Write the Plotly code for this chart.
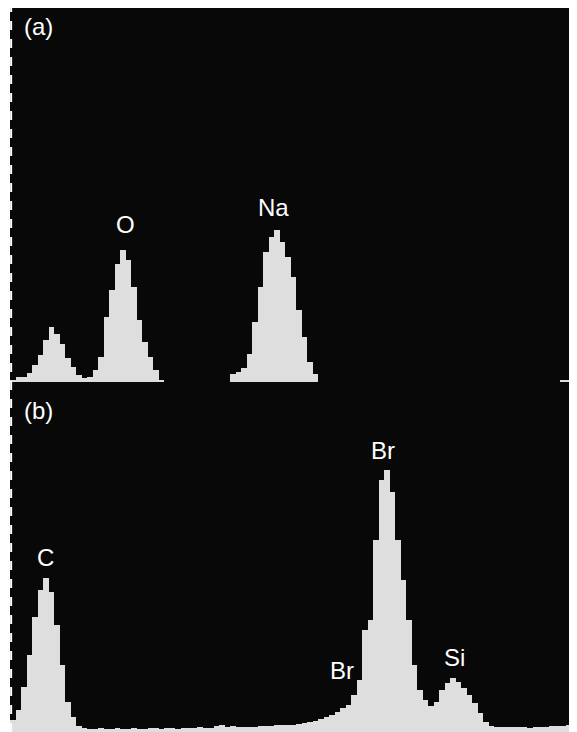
import plotly.graph_objects as go
from plotly.subplots import make_subplots

# channel index (energy channels)
channels = list(range(103))

# panel (a) counts per channel
counts_a = [2, 5, 5, 9, 17, 27, 42, 55, 48, 38, 24, 15, 7, 4,
            5, 12, 25, 65, 92, 118, 132, 122, 95, 62, 40, 25, 12, 2,
            0, 0, 0, 0, 0, 0, 0, 0, 0, 0, 0, 0,
            8, 10, 14, 28, 60, 95, 130, 145, 152, 140, 125, 105, 72, 45, 20, 8,
            0, 0, 0, 0, 0, 0, 0, 0, 0, 0, 0, 0, 0, 0, 0, 0, 0, 0, 0, 0, 0, 0,
            0, 0, 0, 0, 0, 0, 0, 0, 0, 0, 0, 0, 0, 0, 0, 0, 0, 0, 0, 0, 0, 0,
            2, 2, 2]

# panel (b) counts per channel
counts_b = [12, 22, 45, 77, 115, 142, 154, 140, 107, 67, 30, 15, 6, 4,
            3, 3, 4, 3, 3, 4, 3, 3, 4, 3, 3, 4, 4, 3, 4, 4, 3, 4, 4, 4,
            5, 4, 4, 6, 7, 5, 6, 5, 5, 5, 5, 6, 6, 6, 7, 7, 7, 7, 8, 9,
            10, 11, 13, 15, 17, 20, 24, 27, 37, 52, 102, 112, 192, 252, 262, 240,
            192, 152, 112, 67, 42, 32, 26, 30, 42, 49, 54, 50, 44, 37, 29, 19,
            10, 6, 5, 5, 5, 5, 5, 5, 4, 5, 5, 5, 6, 6, 6, 7, 7]

# peak labels: (text, channel position, count level)
labels_a = [("O", 20.9, 158), ("Na", 47.8, 175)]
labels_b = [("C", 6.4, 175), ("Br", 67.8, 282), ("Br", 60.3, 62), ("Si", 80.8, 75)]
panel_tags = ["(a)", "(b)"]

# page body has an 8px margin; size the figure so it fills the window
W, H = 569, 724
fig = make_subplots(rows=2, cols=1, vertical_spacing=0, shared_xaxes=False)

bar_color = "#dedede"
fig.add_trace(go.Bar(x=[c + 0.5 for c in channels], y=counts_a, width=1,
                     marker=dict(color=bar_color, line=dict(width=0)),
                     showlegend=False), row=1, col=1)
fig.add_trace(go.Bar(x=[c + 0.5 for c in channels], y=counts_b, width=1,
                     marker=dict(color=bar_color, line=dict(width=0)),
                     showlegend=False), row=2, col=1)

split = 350 / 724
axis_common = dict(showgrid=False, zeroline=False, showticklabels=False,
                   ticks="", showline=False)
fig.update_layout(
    width=W, height=H,
    margin=dict(l=2, r=0, t=0, b=0),
    paper_bgcolor="white",
    plot_bgcolor="#080808",
    bargap=0,
    font=dict(family="Liberation Sans, Arial, sans-serif", color="white"),
    xaxis=dict(range=[0, 103], **axis_common),
    xaxis2=dict(range=[0, 103], **axis_common),
    yaxis=dict(range=[0, 374], domain=[split, 1], **axis_common),
    yaxis2=dict(range=[0, 350], domain=[0, split], **axis_common),
)

lab_font = dict(size=24, color="white")
annotations = []
for text, xc, yc in labels_a:
    annotations.append(dict(text=text, x=xc, y=yc, xref="x", yref="y",
                            xanchor="center", yanchor="middle",
                            showarrow=False, font=lab_font))
for text, xc, yc in labels_b:
    annotations.append(dict(text=text, x=xc, y=yc, xref="x2", yref="y2",
                            xanchor="center", yanchor="middle",
                            showarrow=False, font=lab_font))
annotations.append(dict(text=panel_tags[0], x=(38 - 10) / 567, y=(732 - 27) / 724,
                        xref="paper", yref="paper", xanchor="center",
                        yanchor="middle", showarrow=False, font=lab_font))
annotations.append(dict(text=panel_tags[1], x=(38 - 10) / 567, y=(732 - 411) / 724,
                        xref="paper", yref="paper", xanchor="center",
                        yanchor="middle", showarrow=False, font=lab_font))
fig.update_layout(annotations=annotations)

fig.add_shape(type="line", xref="paper", yref="paper", x0=0.002, x1=0.002,
              y0=0, y1=1, line=dict(color="white", width=2, dash="dash"))

fig.write_html("out.html")
